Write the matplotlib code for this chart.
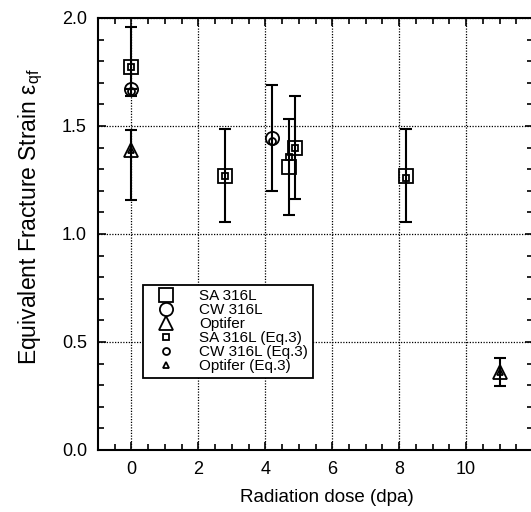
import matplotlib
matplotlib.use("Agg")
import matplotlib.pyplot as plt
from matplotlib.ticker import MultipleLocator

plt.rcParams['font.family'] = ['Liberation Sans', 'DejaVu Sans']
plt.rcParams['mathtext.fontset'] = 'custom'
plt.rcParams['mathtext.rm'] = 'Liberation Sans'
plt.rcParams['mathtext.it'] = 'Liberation Sans:italic'

# Data
sa_x = [0, 2.8, 4.7, 4.9, 8.2]
sa_y = [1.775, 1.27, 1.31, 1.40, 1.27]
sa_err_lo = [0.135, 0.215, 0.222, 0.24, 0.215]
sa_err_hi = [0.185, 0.215, 0.222, 0.24, 0.215]

cw_x = [0, 4.2]
cw_y = [1.67, 1.446]
cw_err_lo = [0.0, 0.245]
cw_err_hi = [0.0, 0.245]

opt_x = [0, 11]
opt_y = [1.39, 0.36]
opt_err_lo = [0.233, 0.065]
opt_err_hi = [0.09, 0.065]

sa_eq_x = [0, 2.8, 4.7, 4.9, 8.2]
sa_eq_y = [1.775, 1.27, 1.358, 1.40, 1.26]
cw_eq_x = [0, 4.2]
cw_eq_y = [1.66, 1.43]
opt_eq_x = [0, 11]
opt_eq_y = [1.39, 0.36]

fig = plt.figure(figsize=(5.31, 5.12), dpi=100)
ax = fig.add_axes([98/531, 62/512, 435/531, 432/512])

eb_kw = dict(fmt='none', ecolor='black', elinewidth=1.5, capsize=4, capthick=1.5, zorder=2)
ax.errorbar(sa_x, sa_y, yerr=[sa_err_lo, sa_err_hi], **eb_kw)
ax.errorbar(cw_x, cw_y, yerr=[cw_err_lo, cw_err_hi], **eb_kw)
ax.errorbar(opt_x, opt_y, yerr=[opt_err_lo, opt_err_hi], **eb_kw)

big = dict(linestyle='none', markerfacecolor='none', markeredgecolor='black',
           markeredgewidth=1.3, markersize=9.5, zorder=3)
small = dict(linestyle='none', markerfacecolor='none', markeredgecolor='black',
             markeredgewidth=1.3, markersize=5, zorder=4)
ax.plot(sa_x, sa_y, marker='s', label='SA 316L', **big)
ax.plot(cw_x, cw_y, marker='o', label='CW 316L', **big)
ax.plot(opt_x, opt_y, marker='^', label='Optifer', **big)
ax.plot(sa_eq_x, sa_eq_y, marker='s', label='SA 316L (Eq.3)', **small)
ax.plot(cw_eq_x, cw_eq_y, marker='o', label='CW 316L (Eq.3)', **small)
ax.plot(opt_eq_x, opt_eq_y, marker='^', label='Optifer (Eq.3)', **small)

ax.set_xlim(-1, 12)
ax.set_ylim(0, 2.0)
ax.xaxis.set_minor_locator(MultipleLocator(0.5))
ax.yaxis.set_minor_locator(MultipleLocator(0.1))
ax.set_xticks([0, 2, 4, 6, 8, 10])
ax.set_xticklabels(['0', '2', '4', '6', '8', '10'])
ax.set_yticks([0, 0.5, 1.0, 1.5, 2.0])
ax.set_yticklabels(['0.0', '0.5', '1.0', '1.5', '2.0'])
ax.tick_params(which='both', direction='in', top=True, right=True, width=1.2, labelsize=13)
ax.tick_params(which='major', length=6, pad=8)
ax.tick_params(which='minor', length=4)
for s in ax.spines.values():
    s.set_linewidth(1.5)
ax.grid(True, which='major', linestyle=(0, (1, 1.2)), color='black', linewidth=0.9)
ax.set_axisbelow(True)

ax.set_xlabel('Radiation dose (dpa)', fontsize=13.5, labelpad=8, x=0.525)
ax.set_ylabel('Equivalent Fracture Strain ε$_{\\mathrm{qf}}$', fontsize=16.5, labelpad=12, y=0.54)

leg = ax.legend(loc='upper left', bbox_to_anchor=(0.103, 0.383), fontsize=11,
                frameon=True, fancybox=False, edgecolor='black', framealpha=1,
                borderpad=0.3, labelspacing=0.0, handletextpad=1.0,
                handlelength=2.4, borderaxespad=0)
leg.get_frame().set_linewidth(1.3)

fig.savefig('out.png', dpi=100)
